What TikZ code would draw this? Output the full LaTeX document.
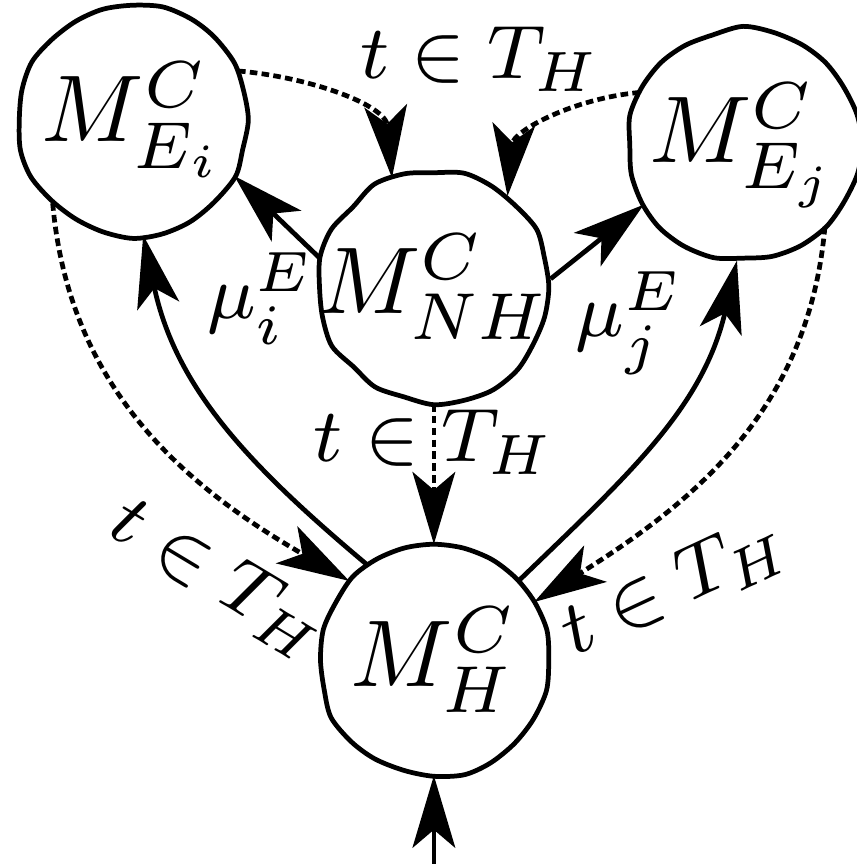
\documentclass[tikz,border=0pt]{standalone}
\usetikzlibrary{arrows.meta}
\begin{document}
\begin{tikzpicture}[line width=0.5pt, line join=round,
  blob/.style={circle, inner sep=-1pt, minimum size=0.84cm},
  msg/.style={-{Stealth[length=7.6pt, width=4.5pt, inset=1.9pt]}},
  tr/.style={msg, dash pattern=on 0.8pt off 0.45pt},
  lab/.style={font=\footnotesize}
]
\pgfmathsetseed{11}
\useasboundingbox (0,0) rectangle (3.174,3.2);
\node[blob] (ei) at (0.493,2.756) {$M^C_{E_i}$};
\node[blob] (nh) at (1.607,2.137) {$M^C_{NH}$};
\node[blob] (ej) at (2.752,2.663) {$M^C_{E_j}$};
\node[blob] (h) at (1.607,0.756) {$M^C_H$};
\coordinate (in) at (1.607,0);
% wobbly outlines
\foreach \n in {ei,nh,ej,h}
  \draw[shift={(\n.center)}] plot[smooth cycle, domain=0:345, samples=24] (\x:{0.419+0.022*rnd});
% solid
\draw[msg] (nh.166) -- node[lab, shift={(-0.06,-0.30)}] (mui) {$\mu^E_i$} (ei.-29);
\draw[msg] (nh.4) -- node[lab, shift={(0.12,-0.30)}] (muj) {$\mu^E_j$} (ej.211);
\draw[msg] (h.125) to[out=140, in=-78] (ei.-85);
\draw[msg] (h.43) to[out=44, in=-103] (ej.-93);
\draw[msg] (in) -- (h);
% dashed
\draw[tr] (ei.25) to[out=-5, in=95] node[lab, shift={(0.52,0.15)}] (ta) {$t\in T_H$} (nh.111);
\draw[tr] (ej.153) to[out=185, in=85] (nh.51);
\draw[tr] (nh) -- node[lab, pos=0.27] (tb) {$t\in T_H$} (h);
\draw[tr] (ei.226) to[out=-85, in=150] node[lab, pos=0.85, shift={(-0.225,-0.15)}, rotate=-31] (tc) {$t\in T_H$} (h.137);
\draw[tr] (ej.-45) to[out=-95, in=32] node[lab, pos=0.85, shift={(0.27,-0.11)}, rotate=25] (td) {$t\in T_H$} (h.30);
\end{tikzpicture}
\end{document}
